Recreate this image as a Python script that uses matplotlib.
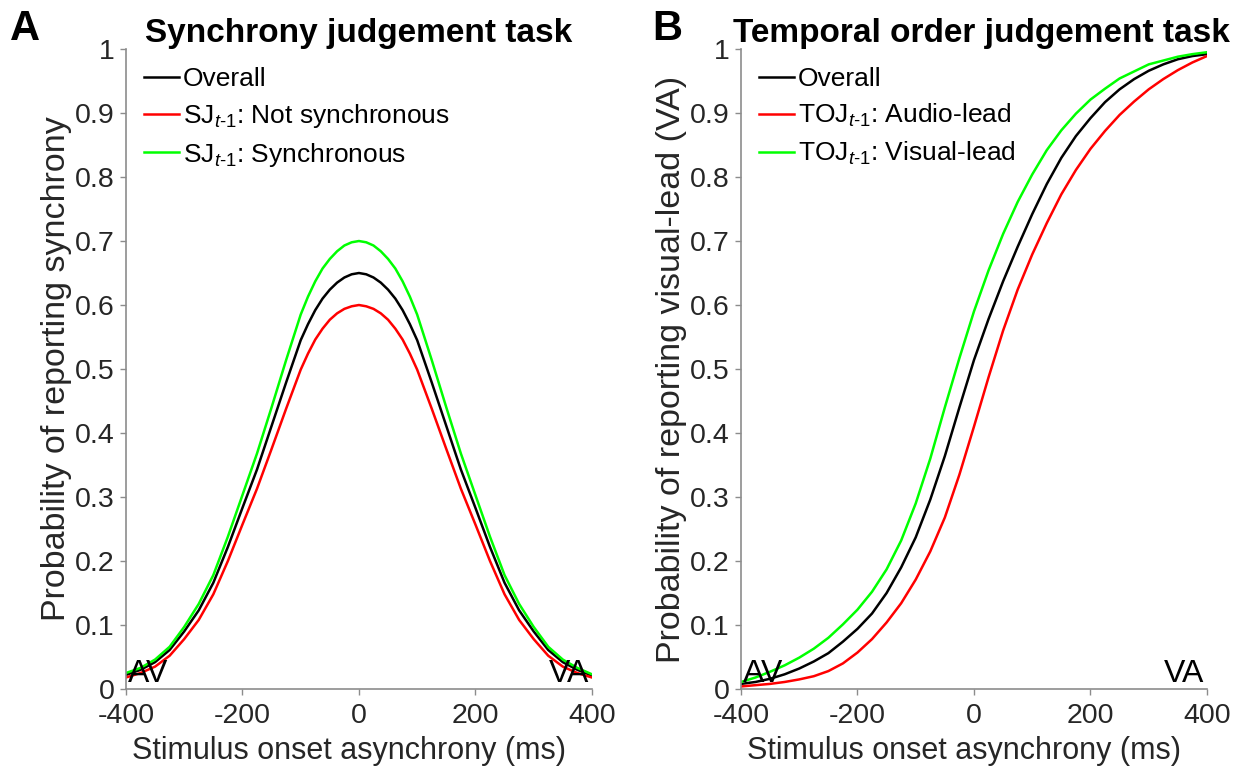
import numpy as np
import matplotlib
matplotlib.use('Agg')
import matplotlib.pyplot as plt

plt.rcParams['font.family'] = ['Liberation Sans', 'DejaVu Sans']
plt.rcParams['mathtext.fontset'] = 'custom'
plt.rcParams['mathtext.rm'] = 'Liberation Sans'
plt.rcParams['mathtext.it'] = 'Liberation Sans:italic'

# A: synchrony judgement task (denser readings around the peak)
soa_sj = [-400, -375, -350, -325, -300, -275, -250, -225, -200, -175, -150, -125,
          -100, -87.5, -75, -62.5, -50, -37.5, -25, -12.5, 0, 12.5, 25, 37.5, 50, 62.5,
          75, 87.5, 100, 125, 150, 175, 200, 225, 250, 275, 300, 325, 350, 375, 400]
sj_overall = [0.022, 0.030, 0.042, 0.061, 0.090, 0.123, 0.166, 0.222, 0.283, 0.343, 0.411,
              0.479, 0.545, 0.570, 0.592, 0.610, 0.624, 0.635, 0.643, 0.648, 0.650, 0.648,
              0.643, 0.635, 0.624, 0.610, 0.592, 0.570, 0.545, 0.479, 0.411, 0.343, 0.283,
              0.222, 0.166, 0.123, 0.090, 0.061, 0.042, 0.030, 0.021]
sj_not_sync = [0.018, 0.025, 0.035, 0.052, 0.078, 0.108, 0.148, 0.200, 0.257, 0.313, 0.375,
               0.438, 0.499, 0.524, 0.546, 0.563, 0.577, 0.587, 0.594, 0.598, 0.600, 0.598,
               0.594, 0.587, 0.577, 0.563, 0.546, 0.524, 0.499, 0.438, 0.375, 0.313, 0.257,
               0.200, 0.148, 0.108, 0.078, 0.052, 0.035, 0.025, 0.018]
sj_sync = [0.025, 0.033, 0.046, 0.066, 0.097, 0.133, 0.178, 0.238, 0.303, 0.368, 0.440,
           0.514, 0.585, 0.613, 0.637, 0.657, 0.672, 0.684, 0.693, 0.698, 0.700, 0.698,
           0.693, 0.684, 0.672, 0.657, 0.637, 0.613, 0.585, 0.514, 0.440, 0.368, 0.303,
           0.238, 0.178, 0.133, 0.097, 0.066, 0.046, 0.033, 0.023]

# B: temporal order judgement task
soa_toj = [-400, -375, -350, -325, -300, -275, -250, -225, -200, -175, -150, -125, -100,
           -75, -50, -25, 0, 25, 50, 75, 100, 125, 150, 175, 200, 225, 250, 275, 300,
           325, 350, 375, 400]
toj_overall = [0.008, 0.011, 0.016, 0.023, 0.032, 0.043, 0.056, 0.074, 0.094, 0.118, 0.150,
               0.190, 0.237, 0.296, 0.364, 0.440, 0.514, 0.578, 0.637, 0.691, 0.742, 0.789,
               0.830, 0.864, 0.892, 0.917, 0.937, 0.953, 0.966, 0.976, 0.984, 0.989, 0.992]
toj_audio = [0.004, 0.006, 0.008, 0.011, 0.015, 0.020, 0.028, 0.040, 0.057, 0.078, 0.104,
             0.134, 0.171, 0.215, 0.268, 0.335, 0.410, 0.487, 0.560, 0.624, 0.679, 0.728,
             0.773, 0.811, 0.844, 0.872, 0.897, 0.918, 0.937, 0.953, 0.967, 0.979, 0.989]
toj_visual = [0.011, 0.018, 0.027, 0.037, 0.049, 0.063, 0.080, 0.101, 0.124, 0.152, 0.187,
              0.232, 0.290, 0.360, 0.440, 0.517, 0.590, 0.654, 0.711, 0.761, 0.804, 0.842,
              0.873, 0.899, 0.921, 0.938, 0.954, 0.965, 0.976, 0.982, 0.988, 0.992, 0.995]

xticks = [-400, -200, 0, 200, 400]
yticks = [0, 0.1, 0.2, 0.3, 0.4, 0.5, 0.6, 0.7, 0.8, 0.9, 1]
ytick_labels = ['0', '0.1', '0.2', '0.3', '0.4', '0.5', '0.6', '0.7', '0.8', '0.9', '1']

RED = '#ff0000'
GREEN = '#00ff00'
GREY_TXT = '#262626'
GREY_AX = '#8c8c8c'

fig = plt.figure(figsize=(12.36, 7.72), dpi=100)
ax1 = fig.add_axes([0.1019, 0.1075, 0.377, 0.829])
ax2 = fig.add_axes([0.5995, 0.1075, 0.377, 0.829])


def style(ax, ylabel, title):
    ax.set_xlim(-400, 400)
    ax.set_ylim(0, 1)
    ax.set_xticks(xticks)
    ax.set_xticklabels([str(t) for t in xticks])
    ax.set_yticks(yticks)
    ax.set_yticklabels(ytick_labels)
    for s in ['top', 'right']:
        ax.spines[s].set_visible(False)
    for s in ['left', 'bottom']:
        ax.spines[s].set_color(GREY_AX)
        ax.spines[s].set_linewidth(1.2)
    ax.tick_params(direction='out', length=4, width=1, colors=GREY_AX,
                   labelcolor=GREY_TXT, labelsize=20.5)
    ax.tick_params(axis='x', pad=6)
    ax.tick_params(axis='y', pad=4)
    ax.set_xlabel('Stimulus onset asynchrony (ms)', fontsize=22, color=GREY_TXT)
    ax.xaxis.set_label_coords(0.4785, -0.073)
    ax.set_ylabel(ylabel, fontsize=24.5, color=GREY_TXT, labelpad=2)
    ax.set_title(title, fontsize=24, fontweight='bold', pad=4)
    ax.text(-396, 0.0, 'AV', fontsize=23, ha='left', va='bottom')
    ax.text(396, 0.0, 'VA', fontsize=23, ha='right', va='bottom')


lw = 1.8
ax1.plot(soa_sj, sj_overall, color='black', lw=lw, label='Overall')
ax1.plot(soa_sj, sj_not_sync, color=RED, lw=lw,
         label=r'SJ$_{\mathit{t}\text{-}\mathit{1}}$: Not synchronous')
ax1.plot(soa_sj, sj_sync, color=GREEN, lw=lw,
         label=r'SJ$_{\mathit{t}\text{-}\mathit{1}}$: Synchronous')
style(ax1, 'Probability of reporting synchrony', 'Synchrony judgement task')

ax2.plot(soa_toj, toj_overall, color='black', lw=lw, label='Overall')
ax2.plot(soa_toj, toj_audio, color=RED, lw=lw,
         label=r'TOJ$_{\mathit{t}\text{-}\mathit{1}}$: Audio-lead')
ax2.plot(soa_toj, toj_visual, color=GREEN, lw=lw,
         label=r'TOJ$_{\mathit{t}\text{-}\mathit{1}}$: Visual-lead')
style(ax2, 'Probability of reporting visual-lead (VA)', 'Temporal order judgement task')
ax2.title.set_position((0.515, 1.0))

for ax in (ax1, ax2):
    ax.legend(loc='upper left', bbox_to_anchor=(0.0, 1.0), frameon=False, fontsize=19,
              handlelength=1.3, handletextpad=0.15, labelspacing=0.4,
              borderpad=0.2, borderaxespad=0.5)

fig.text(0.008, 0.962, 'A', fontsize=30, fontweight='bold', va='center', ha='left')
fig.text(0.528, 0.962, 'B', fontsize=30, fontweight='bold', va='center', ha='left')

fig.savefig('out.png', dpi=100)
